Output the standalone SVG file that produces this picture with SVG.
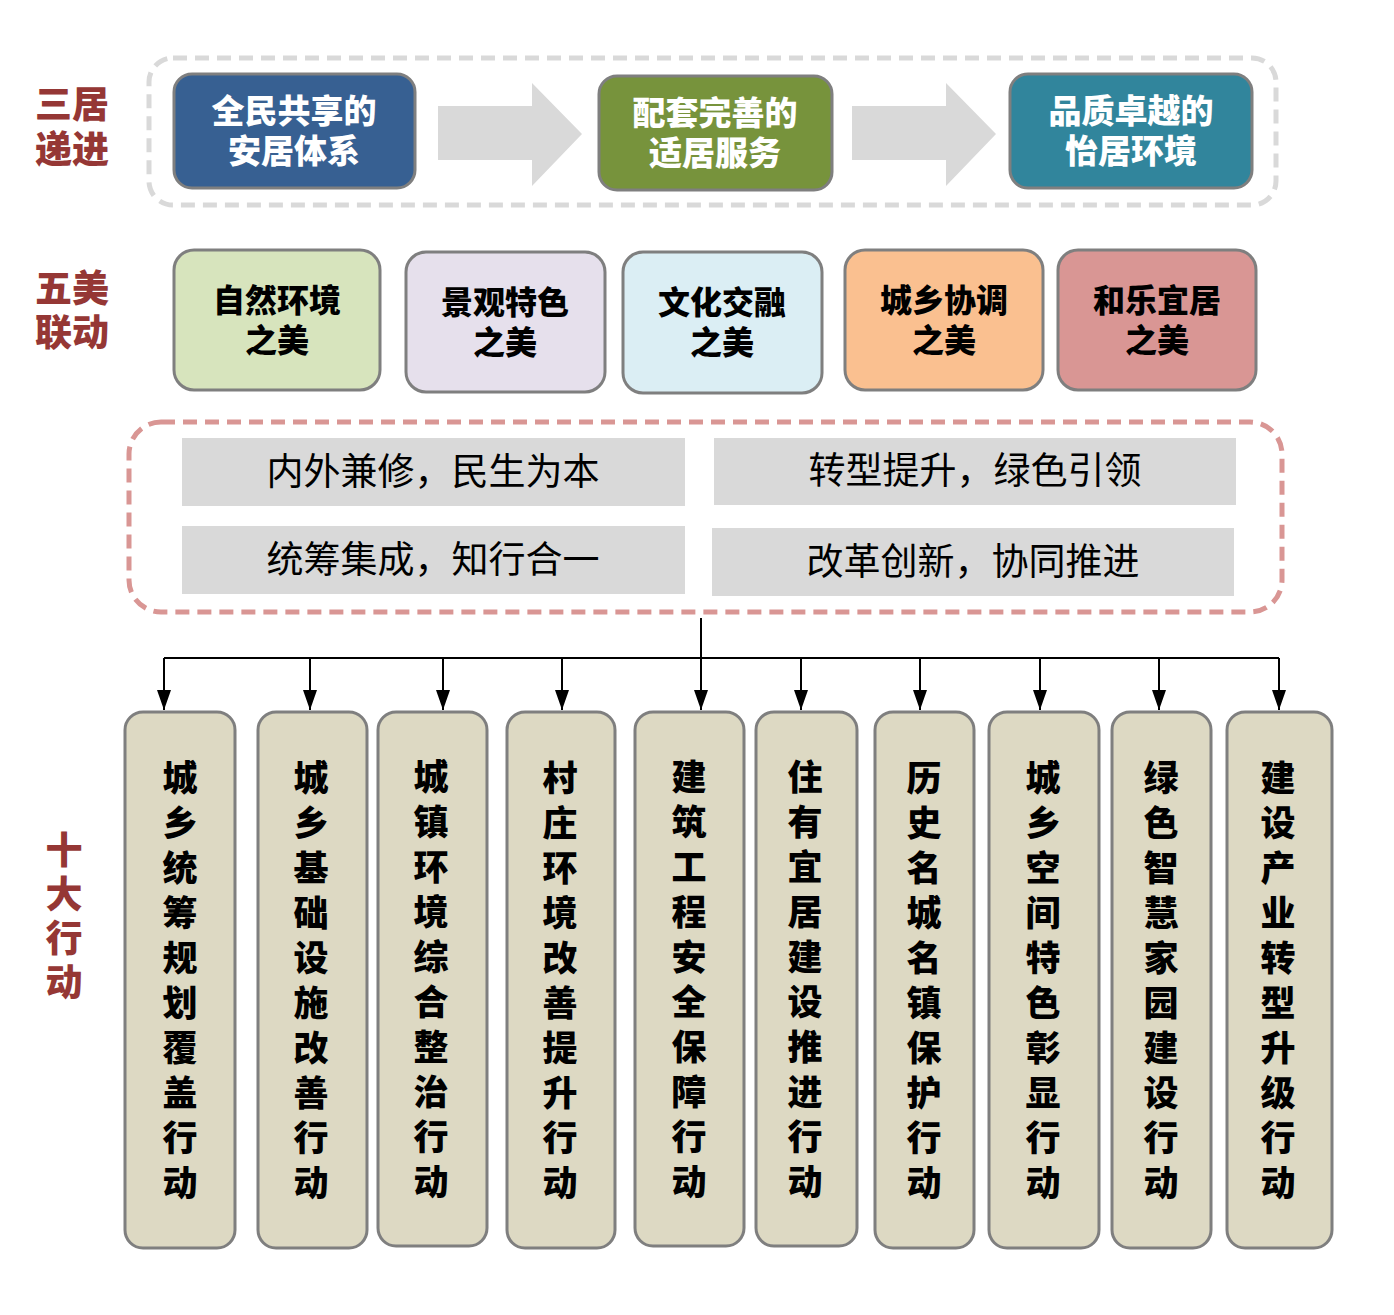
<svg xmlns="http://www.w3.org/2000/svg" width="1394" height="1315" viewBox="0 0 1394 1315">
<defs>
<style>
.lbl{font-family:"Noto Sans CJK SC","Noto Sans",sans-serif;font-weight:900;font-size:37px;fill:#953735;text-anchor:middle}
.vl{font-family:"Noto Sans CJK SC","Noto Sans",sans-serif;font-weight:900;font-size:37px;fill:#953735;writing-mode:vertical-rl;letter-spacing:7px}
.top{stroke:#7f7f7f;stroke-width:3}
.tt{font-family:"Noto Sans CJK SC","Noto Sans",sans-serif;font-weight:900;font-size:33px;fill:#ffffff;text-anchor:middle}
.five{stroke:#7f7f7f;stroke-width:3}
.ft{font-family:"Noto Sans CJK SC","Noto Sans",sans-serif;font-weight:900;font-size:32px;fill:#000000;text-anchor:middle}
.pr{fill:#d9d9d9}
.pt{font-family:"Noto Sans CJK SC","Noto Sans",sans-serif;font-weight:400;font-size:37px;fill:#000000;text-anchor:middle}
.act{fill:#ddd9c3;stroke:#7f7f7f;stroke-width:3}
.at{font-family:"Noto Sans CJK SC","Noto Sans",sans-serif;font-weight:900;font-size:35px;fill:#000000;writing-mode:vertical-rl;letter-spacing:10px}
.big{fill:#d9d9d9}
.con{stroke:#000;stroke-width:2;fill:none}
</style>
<marker id="ah" viewBox="0 0 20 14" refX="20" refY="7" markerWidth="20" markerHeight="14" markerUnits="userSpaceOnUse" orient="auto">
<path d="M0,0 L20,7 L0,14 Z" fill="#000"/>
</marker>
</defs>
<rect width="1394" height="1315" fill="#ffffff"/>

<g id="labels">
<text class="lbl" x="72" y="118">三居</text>
<text class="lbl" x="72" y="163">递进</text>
<text class="lbl" x="72" y="302">五美</text>
<text class="lbl" x="72" y="346">联动</text>
<text class="vl" x="64" y="831">十大行动</text>
</g>

<g id="frame-top">
<rect x="149" y="58" width="1127" height="147" rx="24" fill="none" stroke="#d9d9d9" stroke-width="5" stroke-dasharray="14 8"/>
</g>

<g id="arrows-top">
<path class="big" d="M438,106 L532,106 L532,83 L582,134 L532,186 L532,160 L438,160 Z"/>
<path class="big" d="M852,106 L946,106 L946,83 L996,134 L946,186 L946,160 L852,160 Z"/>
</g>

<g id="n-anju">
<rect class="top" x="174" y="74" width="241" height="114" rx="18" fill="#376092"/>
<text class="tt" x="294" y="123">全民共享的</text>
<text class="tt" x="294" y="163">安居体系</text>
</g>
<g id="n-shiju">
<rect class="top" x="599" y="76" width="233" height="114" rx="18" fill="#77933c"/>
<text class="tt" x="715" y="125">配套完善的</text>
<text class="tt" x="715" y="165">适居服务</text>
</g>
<g id="n-yiju">
<rect class="top" x="1010" y="74" width="242" height="114" rx="18" fill="#31859c"/>
<text class="tt" x="1131" y="123">品质卓越的</text>
<text class="tt" x="1131" y="163">怡居环境</text>
</g>

<g id="n-ziran">
<rect class="five" x="174" y="250" width="206" height="140" rx="20" fill="#d7e4bd"/>
<text class="ft" x="277" y="312">自然环境</text>
<text class="ft" x="277" y="352">之美</text>
</g>
<g id="n-jingguan">
<rect class="five" x="406" y="252" width="199" height="140" rx="20" fill="#e6e0ec"/>
<text class="ft" x="505" y="314">景观特色</text>
<text class="ft" x="505" y="354">之美</text>
</g>
<g id="n-wenhua">
<rect class="five" x="623" y="252" width="199" height="141" rx="20" fill="#dbeef4"/>
<text class="ft" x="722" y="314">文化交融</text>
<text class="ft" x="722" y="354">之美</text>
</g>
<g id="n-chengxiang">
<rect class="five" x="845" y="250" width="198" height="140" rx="20" fill="#fac090"/>
<text class="ft" x="944" y="312">城乡协调</text>
<text class="ft" x="944" y="352">之美</text>
</g>
<g id="n-hele">
<rect class="five" x="1058" y="250" width="198" height="140" rx="20" fill="#d99694"/>
<text class="ft" x="1157" y="312">和乐宜居</text>
<text class="ft" x="1157" y="352">之美</text>
</g>

<g id="frame-principles">
<rect x="129" y="422" width="1153" height="190" rx="32" fill="none" stroke="#d99694" stroke-width="5" stroke-dasharray="14 8"/>
</g>
<g id="p1">
<rect class="pr" x="182" y="438" width="503" height="68"/>
<text class="pt" x="433" y="485">内外兼修，民生为本</text>
</g>
<g id="p2">
<rect class="pr" x="714" y="438" width="522" height="67"/>
<text class="pt" x="975" y="484">转型提升，绿色引领</text>
</g>
<g id="p3">
<rect class="pr" x="182" y="526" width="503" height="68"/>
<text class="pt" x="433" y="573">统筹集成，知行合一</text>
</g>
<g id="p4">
<rect class="pr" x="712" y="528" width="522" height="68"/>
<text class="pt" x="973" y="575">改革创新，协同推进</text>
</g>

<g id="connectors">
<path class="con" d="M701,618 L701,658"/>
<path class="con" d="M164,658 L1279,658"/>
<path class="con" d="M164,658 L164,710" marker-end="url(#ah)"/>
<path class="con" d="M310,658 L310,710" marker-end="url(#ah)"/>
<path class="con" d="M443,658 L443,710" marker-end="url(#ah)"/>
<path class="con" d="M562,658 L562,710" marker-end="url(#ah)"/>
<path class="con" d="M701,658 L701,710" marker-end="url(#ah)"/>
<path class="con" d="M801,658 L801,710" marker-end="url(#ah)"/>
<path class="con" d="M920,658 L920,710" marker-end="url(#ah)"/>
<path class="con" d="M1040,658 L1040,710" marker-end="url(#ah)"/>
<path class="con" d="M1159,658 L1159,710" marker-end="url(#ah)"/>
<path class="con" d="M1279,658 L1279,710" marker-end="url(#ah)"/>
</g>

<g id="a1">
<rect class="act" x="125" y="712" width="110" height="536" rx="18"/>
<text class="at" x="180" y="760">城乡统筹规划覆盖行动</text>
</g>
<g id="a2">
<rect class="act" x="258" y="712" width="109" height="536" rx="18"/>
<text class="at" x="311" y="760">城乡基础设施改善行动</text>
</g>
<g id="a3">
<rect class="act" x="378" y="712" width="109" height="534" rx="18"/>
<text class="at" x="431" y="759">城镇环境综合整治行动</text>
</g>
<g id="a4">
<rect class="act" x="507" y="712" width="108" height="536" rx="18"/>
<text class="at" x="560" y="760">村庄环境改善提升行动</text>
</g>
<g id="a5">
<rect class="act" x="635" y="712" width="109" height="534" rx="18"/>
<text class="at" x="689" y="759">建筑工程安全保障行动</text>
</g>
<g id="a6">
<rect class="act" x="756" y="712" width="101" height="534" rx="18"/>
<text class="at" x="805" y="759">住有宜居建设推进行动</text>
</g>
<g id="a7">
<rect class="act" x="875" y="712" width="99" height="536" rx="18"/>
<text class="at" x="924" y="760">历史名城名镇保护行动</text>
</g>
<g id="a8">
<rect class="act" x="989" y="712" width="110" height="536" rx="18"/>
<text class="at" x="1043" y="760">城乡空间特色彰显行动</text>
</g>
<g id="a9">
<rect class="act" x="1112" y="712" width="99" height="536" rx="18"/>
<text class="at" x="1161" y="760">绿色智慧家园建设行动</text>
</g>
<g id="a10">
<rect class="act" x="1227" y="712" width="105" height="536" rx="18"/>
<text class="at" x="1278" y="760">建设产业转型升级行动</text>
</g>
</svg>
